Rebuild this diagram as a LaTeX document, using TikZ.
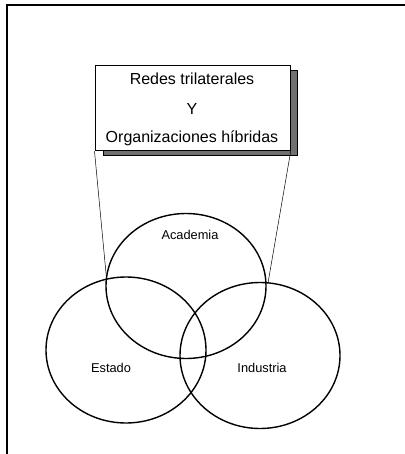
\documentclass[tikz,border=0pt]{standalone}
\usepackage{fontspec}
\setmainfont{Liberation Sans}
\definecolor{shadowgray}{HTML}{707070}
\begin{document}
\begin{tikzpicture}[x=1pt,y=-1pt,
  frameline/.style={line width=2pt,line cap=rect},
  setring/.style={draw,line width=1.4pt},
  setlabel/.style={font=\fontsize{12.8}{14}\selectfont,inner sep=0pt},
  boxtext/.style={font=\fontsize{16}{18}\selectfont,inner sep=0pt},
  leader/.style={line width=0.5pt}]
\useasboundingbox (0,0) rectangle (404,454);
% outer frame (top and left edges)
\draw[frameline] (6.5,460) -- (6.5,5) -- (410,5);
% shadow behind the title box
\draw[fill=shadowgray,line width=1pt] (103,71) rectangle (297.5,156);
% title box
\node[draw,fill=white,line width=1.2pt,minimum width=195pt,minimum height=85pt,inner sep=0pt,anchor=north west]
  (title) at (94.5,65) {};
\node[boxtext] (t1) at (192,79) {Redes trilaterales};
\node[boxtext] (t2) at (192,109) {Y};
\node[boxtext] (t3) at (192,138) {Organizaciones híbridas};
% Venn rings
\draw[setring] (186,286) ellipse [x radius=80, y radius=72.5];
\draw[setring] (126,350) ellipse [x radius=80, y radius=73];
\draw[setring] (260,355.5) ellipse [x radius=80, y radius=73];
\node[setlabel] (academia) at (190,235) {Academia};
\node[setlabel] (estado) at (111,368) {Estado};
\node[setlabel] (industria) at (262,368) {Industria};
% leaders from the title box to the upper ring
\coordinate (lowleft) at (106.5,278.5);
\coordinate (lowright) at (268,283);
\draw[leader] (title.south west) -- (lowleft);
\draw[leader] (title.south east) -- (lowright);
\end{tikzpicture}
\end{document}
